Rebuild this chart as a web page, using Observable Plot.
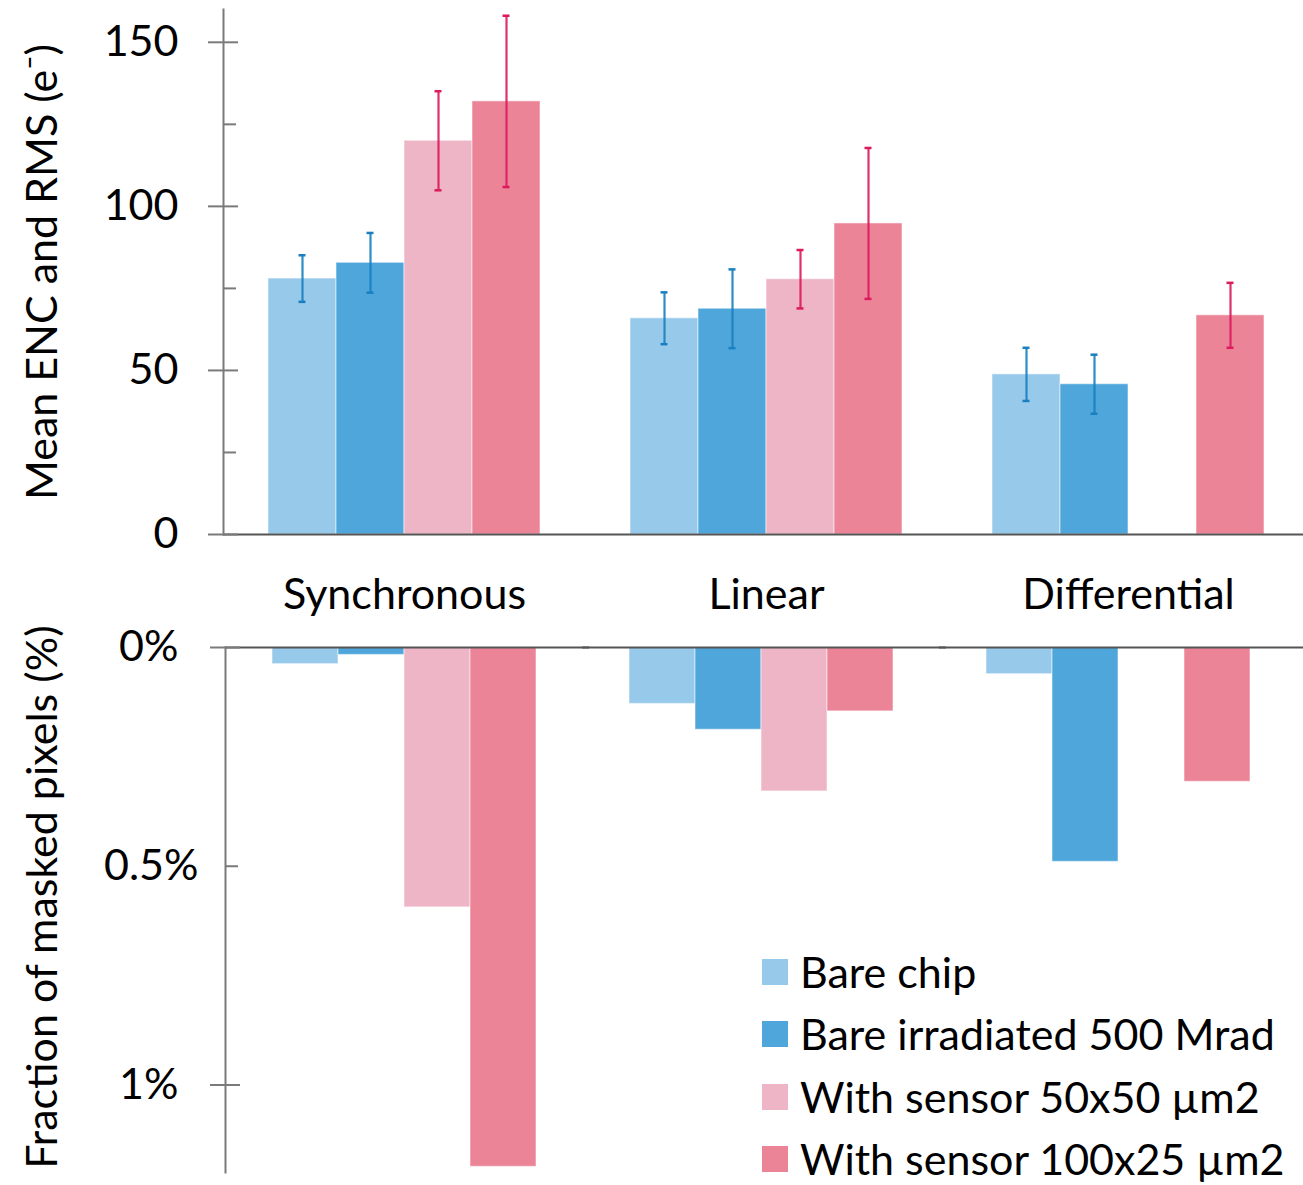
<!DOCTYPE html>
<html>
<head>
<meta charset="utf-8">
<script src="https://cdn.jsdelivr.net/npm/d3@7"></script>
<script src="https://cdn.jsdelivr.net/npm/@observablehq/plot@0.6"></script>
<style>
html, body { margin: 0; padding: 0; background: #fff; overflow: hidden; }
#wrap { position: relative; width: 1303px; height: 1185px; overflow: hidden; }
#wrap svg { display: block; max-width: none; overflow: visible; }
.legend { position: absolute; left: 762px; top: 950px; font-family: Lato, sans-serif; font-size: 43px; color: #000; }
.legend .row { display: flex; align-items: center; height: 44px; line-height: 44px; margin-bottom: 18.4px; white-space: nowrap; }
.legend .sw { width: 26px; height: 26px; margin-right: 12px; flex: none; }
</style>
</head>
<body>
<div id="wrap"></div>
<script>
// ---- data ----
const categories = ["Synchronous", "Linear", "Differential"];
const series = ["Bare chip", "Bare irradiated 500 Mrad", "With sensor 50x50 µm2", "With sensor 100x25 µm2"];
const seriesColors = ["#97c9ea", "#4fa6db", "#eeb5c6", "#ec8498"];
const errorColors = ["#1a7fc0", "#1a7fc0", "#dc1a5e", "#dc1a5e"];

// Mean ENC (e-), one value per series (null = not measured)
const encSynchronous = [78, 82.8, 120, 132];
const encLinear = [65.9, 68.8, 77.8, 94.8];
const encDifferential = [48.8, 45.8, null, 66.8];
// RMS (e-)
const rmsSynchronous = [7.1, 9.1, 15.1, 26.1];
const rmsLinear = [7.9, 12.0, 8.9, 23.0];
const rmsDifferential = [8.1, 9.0, null, 9.9];
// Fraction of masked pixels (%)
const maskedSynchronous = [0.038, 0.017, 0.594, 1.187];
const maskedLinear = [0.129, 0.188, 0.329, 0.146];
const maskedDifferential = [0.061, 0.490, null, 0.307];

const encMajorTicks = [0, 50, 100, 150];
const encMinorTicks = [25, 75, 125];
const maskedMajorTicks = [0, 1];
const maskedMinorTicks = [0.5];

const yTitleTop = "Mean ENC and RMS (e\u207B)";
const yTitleBottom = "Fraction of masked pixels (%)";

// ---- table ----
const encAll = [encSynchronous, encLinear, encDifferential];
const rmsAll = [rmsSynchronous, rmsLinear, rmsDifferential];
const maskedAll = [maskedSynchronous, maskedLinear, maskedDifferential];
const rows = [];
categories.forEach((c, ci) => series.forEach((s, si) => rows.push({
  category: c, series: s,
  enc: encAll[ci][si], rms: rmsAll[ci][si], masked: maskedAll[ci][si],
  lo: encAll[ci][si] == null ? null : encAll[ci][si] - rmsAll[ci][si],
  hi: encAll[ci][si] == null ? null : encAll[ci][si] + rmsAll[ci][si]
})));
const encRows = rows.filter(d => d.enc != null);
const maskedRows = rows.filter(d => d.masked != null);

const font = {fontFamily: "Lato, sans-serif", fontSize: "43px", color: "#000", background: "transparent", overflow: "visible"};
const axisGray = "#7a7a7a";
const baseGray = "#555";

const errorMarks = series.flatMap((s, i) => {
  const d = encRows.filter(r => r.series === s);
  return [
    Plot.ruleX(d, {fx: "category", x: "series", y1: "lo", y2: "hi", stroke: errorColors[i], strokeWidth: 2.2, strokeOpacity: 0.9}),
    Plot.tickY(d, {fx: "category", x: "series", y: "lo", stroke: errorColors[i], strokeWidth: 2.5, insetLeft: 30.5, insetRight: 30.5}),
    Plot.tickY(d, {fx: "category", x: "series", y: "hi", stroke: errorColors[i], strokeWidth: 2.5, insetLeft: 30.5, insetRight: 30.5})
  ];
});

const topPlot = Plot.plot({
  width: 1309, height: 619,
  marginLeft: 223, marginRight: 0, marginTop: 9, marginBottom: 85,
  style: font,
  fx: {domain: categories, padding: 0, axis: null},
  x: {domain: series, paddingInner: 0, paddingOuter: 0.642, axis: null},
  y: {domain: [0, 160], axis: null},
  color: {domain: series, range: seriesColors},
  marks: [
    Plot.barY(encRows, {fx: "category", x: "series", y: "enc", fill: "series", stroke: "white", strokeOpacity: 0.45, strokeWidth: 1.2}),
    ...errorMarks,
    Plot.ruleY([0], {stroke: baseGray, strokeWidth: 2}),
    Plot.frame({anchor: "left", facetAnchor: "left", stroke: axisGray, strokeWidth: 2}),
    Plot.axisY({ticks: encMajorTicks, tickSize: 15, tickPadding: 30, facetAnchor: "left", label: null, stroke: axisGray, strokeWidth: 2, fill: "#000"}),
    Plot.axisY({ticks: encMajorTicks, tickSize: 15, dx: 15, tickFormat: () => "", facetAnchor: "left", label: null, stroke: axisGray, strokeWidth: 2}),
    Plot.axisY({ticks: encMinorTicks, tickSize: 13, dx: 13, tickFormat: () => "", facetAnchor: "left", label: null, stroke: axisGray, strokeWidth: 2}),
    Plot.text(categories, {fx: d => d, text: d => d, frameAnchor: "bottom", lineAnchor: "bottom", dy: 74, fill: "#000"}),
    Plot.text([yTitleTop], {frameAnchor: "left", facetAnchor: "left", rotate: -90, dx: -180, textAnchor: "middle", lineAnchor: "middle", fill: "#000"})
  ]
});

const bottomPlot = Plot.plot({
  width: 1303, height: 566,
  marginLeft: 225, marginRight: 7, marginTop: 28, marginBottom: 13,
  style: font,
  fx: {domain: categories, padding: 0, axis: null},
  x: {domain: series, paddingInner: 0, paddingOuter: 0.70, axis: null},
  y: {domain: [0, 1.2], reverse: true, axis: null},
  color: {domain: series, range: seriesColors},
  marks: [
    Plot.barY(maskedRows, {fx: "category", x: "series", y: "masked", fill: "series", stroke: "white", strokeOpacity: 0.45, strokeWidth: 1.2}),
    Plot.ruleY([0], {stroke: baseGray, strokeWidth: 2, insetRight: -7}),
    Plot.frame({anchor: "left", facetAnchor: "left", stroke: axisGray, strokeWidth: 2}),
    Plot.axisY({ticks: maskedMajorTicks, tickSize: 15, tickPadding: 32, tickFormat: d => d + "%", facetAnchor: "left", label: null, stroke: axisGray, strokeWidth: 2, fill: "#000"}),
    Plot.axisY({ticks: maskedMajorTicks, tickSize: 15, dx: 15, tickFormat: () => "", facetAnchor: "left", label: null, stroke: axisGray, strokeWidth: 2}),
    Plot.axisY({ticks: maskedMinorTicks, tickSize: 0, tickPadding: 27, tickFormat: d => d + "%", facetAnchor: "left", label: null, fill: "#000"}),
    Plot.axisY({ticks: maskedMinorTicks, tickSize: 13, dx: 13, tickFormat: () => "", facetAnchor: "left", label: null, stroke: axisGray, strokeWidth: 2}),
    Plot.text([yTitleBottom], {frameAnchor: "left", facetAnchor: "left", rotate: -90, dx: -182, dy: -13, textAnchor: "middle", lineAnchor: "middle", fill: "#000"})
  ]
});

const wrap = document.getElementById("wrap");
wrap.appendChild(topPlot);
wrap.appendChild(bottomPlot);

// legend built from the series and colour arrays
const legend = document.createElement("div");
legend.className = "legend";
series.forEach((s, i) => {
  const row = document.createElement("div");
  row.className = "row";
  const sw = document.createElement("span");
  sw.className = "sw";
  sw.style.background = seriesColors[i];
  const lab = document.createElement("span");
  lab.textContent = s;
  row.appendChild(sw);
  row.appendChild(lab);
  legend.appendChild(row);
});
wrap.appendChild(legend);
</script>
</body>
</html>
